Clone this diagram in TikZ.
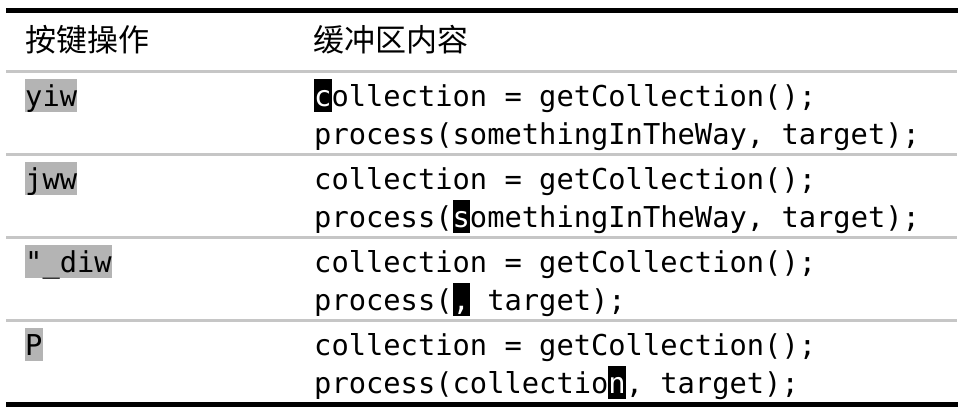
\documentclass[tikz,border=0pt]{standalone}
\usepackage{fontspec}
\setmonofont{DejaVu Sans Mono}
\newfontfamily\cjk{Noto Sans CJK SC}
\usetikzlibrary{positioning}

\definecolor{keygrey}{RGB}{180,180,180}
\definecolor{rulegrey}{RGB}{198,198,198}

% cursor block: white letter on black
\newcommand{\cur}[1]{{\setlength{\fboxsep}{0pt}\colorbox{black}{\rule[-6pt]{0pt}{33pt}\textcolor{white}{#1}}}}

\begin{document}
\begin{tikzpicture}[x=1pt,y=-1pt,
  code/.style={inner sep=0pt,anchor=base west,font=\fontsize{28.75}{38}\selectfont\ttfamily},
  keys/.style={code,fill=keygrey,text height=27pt,text depth=6pt},
  head/.style={inner sep=0pt,anchor=base west,font=\fontsize{31}{36}\selectfont\cjk},
  toprule/.style={line width=5pt},
  midrule/.style={line width=3pt,draw=rulegrey}]

  \useasboundingbox (0,0) rectangle (965,415);

  % rules
  \coordinate (tl) at (6,10.5);   \coordinate (tr) at (958,10.5);
  \coordinate (hl) at (6,71.5);   \coordinate (hr) at (957,71.5);
  \coordinate (r1l) at (6,154.5); \coordinate (r1r) at (957,154.5);
  \coordinate (r2l) at (6,237.5); \coordinate (r2r) at (957,237.5);
  \coordinate (r3l) at (6,320.5); \coordinate (r3r) at (957,320.5);
  \coordinate (bl) at (6,404.5);  \coordinate (br) at (958,404.5);

  \draw[toprule] (tl) -- (tr);
  \draw[midrule] (hl) -- (hr);
  \draw[midrule] (r1l) -- (r1r);
  \draw[midrule] (r2l) -- (r2r);
  \draw[midrule] (r3l) -- (r3r);
  \draw[toprule] (bl) -- (br);

  % header
  \node[head] (hkey) at (25,51) {按键操作};
  \node[head] (hbuf) at (313,51) {缓冲区内容};

  % row 1
  \node[keys] (k1) at (25,106) {yiw};
  \node[code] (b1a) at (314,106) {\cur{c}ollection = getCollection();};
  \node[below=38pt of b1a.base west,code] (b1b) {process(somethingInTheWay, target);};

  % row 2
  \node[keys] (k2) at (25,189) {jww};
  \node[code] (b2a) at (314,189) {collection = getCollection();};
  \node[below=38pt of b2a.base west,code] (b2b) {process(\cur{s}omethingInTheWay, target);};

  % row 3
  \node[keys] (k3) at (25,272) {"\_diw};
  \node[code] (b3a) at (314,272) {collection = getCollection();};
  \node[below=38pt of b3a.base west,code] (b3b) {process(\cur{,} target);};

  % row 4
  \node[keys] (k4) at (25,355) {P};
  \node[code] (b4a) at (314,355) {collection = getCollection();};
  \node[below=38pt of b4a.base west,code] (b4b) {process(collectio\cur{n}, target);};

\end{tikzpicture}
\end{document}
